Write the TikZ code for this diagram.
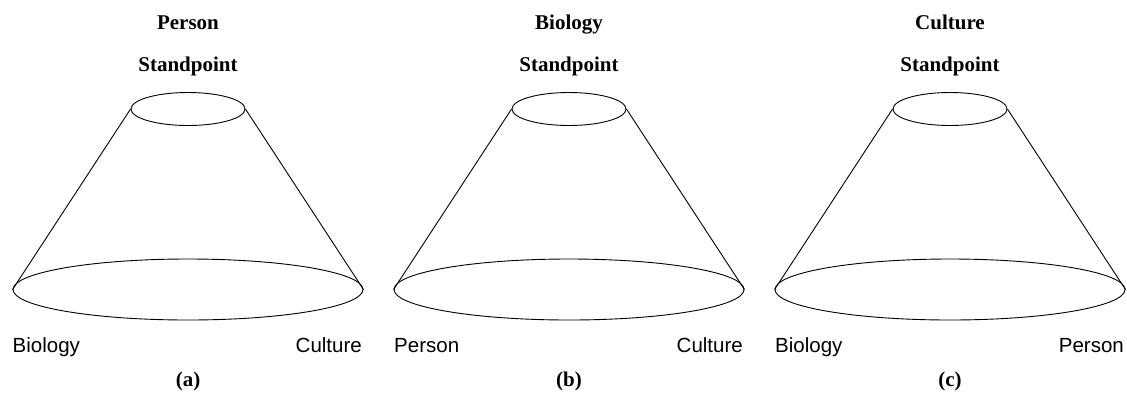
\documentclass[tikz,border=0pt]{standalone}
\usepackage{fontspec}
\setmainfont{Liberation Serif}
\setsansfont{Liberation Sans}
\usepackage{tikz}
\usetikzlibrary{shapes.geometric}

\begin{document}
\begin{tikzpicture}[
        x=1pt, y=-1pt,
        title/.style={anchor=base, inner sep=0pt, font=\fontsize{21}{25}\selectfont\bfseries},
        pole/.style={anchor=base, inner sep=0pt, font=\fontsize{20.5}{24}\selectfont\sffamily},
        toprim/.style={draw, ellipse, line width=0.9pt, inner sep=0pt, minimum width=114pt, minimum height=33pt},
        baserim/.style={draw, ellipse, line width=0.9pt, inner sep=0pt, minimum width=350pt, minimum height=61pt},
        side/.style={line width=0.9pt}
    ]
        \useasboundingbox (0,0) rectangle (1127,392);
        % (a)
        \node[title] (nameA) at (188,29) {Person};
        \node[title] (standA) at (188,71.5) {Standpoint};
        \node[toprim] (topA) at (188,109) {};
        \node[baserim] (baseA) at (188,289.5) {};
        \draw[side] (topA.west) -- (baseA.west);
        \draw[side] (topA.east) -- (baseA.east);
        \node[pole, anchor=base west] (leftA) at (12.5,352.5) {Biology};
        \node[pole, anchor=base east] (rightA) at (362,352.5) {Culture};
        \node[title] (capA) at (188,386) {(a)};
        % (b)
        \node[title] (nameB) at (569,29) {Biology};
        \node[title] (standB) at (569,71.5) {Standpoint};
        \node[toprim] (topB) at (569,109) {};
        \node[baserim] (baseB) at (569,289.5) {};
        \draw[side] (topB.west) -- (baseB.west);
        \draw[side] (topB.east) -- (baseB.east);
        \node[pole, anchor=base west] (leftB) at (394,352.5) {Person};
        \node[pole, anchor=base east] (rightB) at (743,352.5) {Culture};
        \node[title] (capB) at (569,386) {(b)};
        % (c)
        \node[title] (nameC) at (950,29) {Culture};
        \node[title] (standC) at (950,71.5) {Standpoint};
        \node[toprim] (topC) at (950,109) {};
        \node[baserim] (baseC) at (950,289.5) {};
        \draw[side] (topC.west) -- (baseC.west);
        \draw[side] (topC.east) -- (baseC.east);
        \node[pole, anchor=base west] (leftC) at (775,352.5) {Biology};
        \node[pole, anchor=base east] (rightC) at (1124,352.5) {Person};
        \node[title] (capC) at (950,386) {(c)};
    \end{tikzpicture}
\end{document}
